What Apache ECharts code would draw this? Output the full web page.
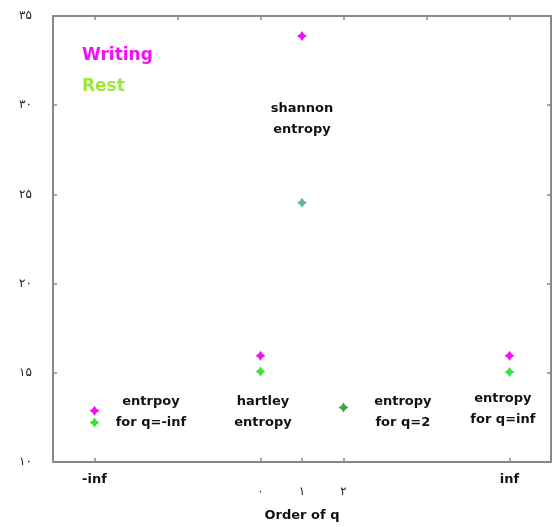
<!DOCTYPE html>
<html><head><meta charset="utf-8">
<script src="https://cdn.jsdelivr.net/npm/echarts@6/dist/echarts.min.js"></script>
<style>html,body{margin:0;padding:0;background:#fff}#c{width:553px;height:527px}</style>
</head><body><div id="c"></div>
<script>
// ---- data ----
const qPositions = [-4, 0, 1, 2, 6];          // -inf, 0, 1, 2, inf
const writing = [12.87, 15.95, 33.88, null, 15.95];
const rest = [12.22, 15.07, 24.53, 13.06, 15.05];
const infPositions = [-4, 6];
const infLabels = ['-inf', 'inf'];
const orderPositions = [0, 1, 2];
const orderLabels = ['۰', '۱', '۲'];
const yTicks = [10, 15, 20, 25, 30, 35];
const yTickLabels = ['۱۰', '۱۵', '۲۰', '۲۵', '۳۰', '۳۵'];
const topTicks = [-4, -2, 0, 2, 4, 6];
const annotationTexts = ['shannon\nentropy', 'entrpoy\nfor q=-inf', 'hartley\nentropy', 'entropy\nfor q=2', 'entropy\nfor q=inf'];
const annotationAnchors = [[1, 29.2], [-2.64, 12.8], [0.06, 12.8], [3.43, 12.82], [5.84, 12.99]];

// ---- styles ----
const MAGENTA = '#f010f0', GREEN = '#3ee040', LEGEND_GREEN = '#9be83a';
const pointColorOverride = { 2: '#5cb894', 3: '#4c9c4c' }; // per-index colours for Rest
const STAR = 'path://M5,0 L7,3 L10,5 L7,7 L5,10 L3,7 L0,5 L3,3 Z';
const AXIS_COLOR = '#888';
const FONT = 'DejaVu Sans';

const writingData = qPositions.map((q, i) => writing[i] == null ? null : [q, writing[i]]).filter(Boolean);
const restData = qPositions.map((q, i) => {
  const item = { value: [q, rest[i]] };
  if (pointColorOverride[i]) item.itemStyle = { color: pointColorOverride[i], opacity: 1 };
  return item;
});

const chart = echarts.init(document.getElementById('c'), null, { renderer: 'canvas' });
const axisLine = { show: true, onZero: false, lineStyle: { color: AXIS_COLOR, width: 2 } };
chart.setOption({
  backgroundColor: '#fff',
  animation: false,
  grid: { left: 53, right: 2, top: 16, bottom: 64 },
  legend: {
    orient: 'vertical', left: 72, top: 41, itemGap: 11,
    icon: 'none', itemWidth: 0, itemHeight: 0,
    selectedMode: false,
    textStyle: { fontFamily: FONT, fontWeight: 'bold', fontSize: 17, lineHeight: 20 },
    data: [
      { name: 'Writing', textStyle: { color: MAGENTA } },
      { name: 'Rest', textStyle: { color: LEGEND_GREEN } }
    ]
  },
  xAxis: [
    {
      type: 'value', position: 'bottom', min: -5, max: 7,
      axisLine, splitLine: { show: false },
      axisTick: { show: true, inside: true, length: 4, customValues: qPositions, lineStyle: { color: AXIS_COLOR, width: 1.5 } },
      axisLabel: { customValues: infPositions, formatter: v => infLabels[infPositions.indexOf(v)],
        margin: 11, fontFamily: FONT, fontWeight: 'bold', fontSize: 13, color: '#111' }
    },
    {
      type: 'value', position: 'bottom', min: -5, max: 7,
      axisLine: { show: false, onZero: false }, axisTick: { show: false }, splitLine: { show: false },
      axisLabel: { customValues: orderPositions, formatter: v => orderLabels[orderPositions.indexOf(v)],
        margin: 24, fontFamily: FONT, fontSize: 12, color: '#222' },
      name: 'Order of q', nameLocation: 'middle', nameGap: 47,
      nameTextStyle: { fontFamily: FONT, fontWeight: 'bold', fontSize: 13, color: '#111' }
    },
    {
      type: 'value', position: 'top', min: -5, max: 7,
      axisLine, splitLine: { show: false },
      axisTick: { show: true, inside: true, length: 4, customValues: topTicks, lineStyle: { color: AXIS_COLOR, width: 1.5 } },
      axisLabel: { show: false }
    }
  ],
  yAxis: [
    {
      type: 'value', position: 'left', min: 10, max: 35, interval: 5,
      axisLine, splitLine: { show: false },
      axisTick: { show: true, inside: true, length: 4, lineStyle: { color: AXIS_COLOR, width: 1.5 } },
      axisLabel: { formatter: v => yTickLabels[yTicks.indexOf(v)], margin: 21, padding: [6, 0, 0, 0],
        fontFamily: FONT, fontSize: 12, color: '#222' }
    },
    {
      type: 'value', position: 'right', min: 10, max: 35, interval: 5,
      axisLine, splitLine: { show: false },
      axisTick: { show: true, inside: true, length: 4, lineStyle: { color: AXIS_COLOR, width: 1.5 } },
      axisLabel: { show: false }
    }
  ],
  series: [
    {
      name: 'Writing', type: 'scatter', xAxisIndex: 0, yAxisIndex: 0,
      symbol: STAR, symbolSize: 10, itemStyle: { color: MAGENTA, opacity: 1 }, data: writingData
    },
    {
      name: 'Rest', type: 'scatter', xAxisIndex: 0, yAxisIndex: 0,
      symbol: STAR, symbolSize: 10, itemStyle: { color: GREEN, opacity: 1 }, data: restData
    },
    {
      name: 'annotations', type: 'scatter', xAxisIndex: 0, yAxisIndex: 0,
      symbolSize: 0, silent: true, itemStyle: { opacity: 1 },
      label: {
        show: true, position: 'inside', align: 'center', verticalAlign: 'middle',
        formatter: p => annotationTexts[p.dataIndex],
        fontFamily: FONT, fontWeight: 'bold', fontSize: 13, lineHeight: 21,
        color: '#111', textBorderWidth: 0, opacity: 1
      },
      data: annotationAnchors
    }
  ]
});
</script>
</body></html>
